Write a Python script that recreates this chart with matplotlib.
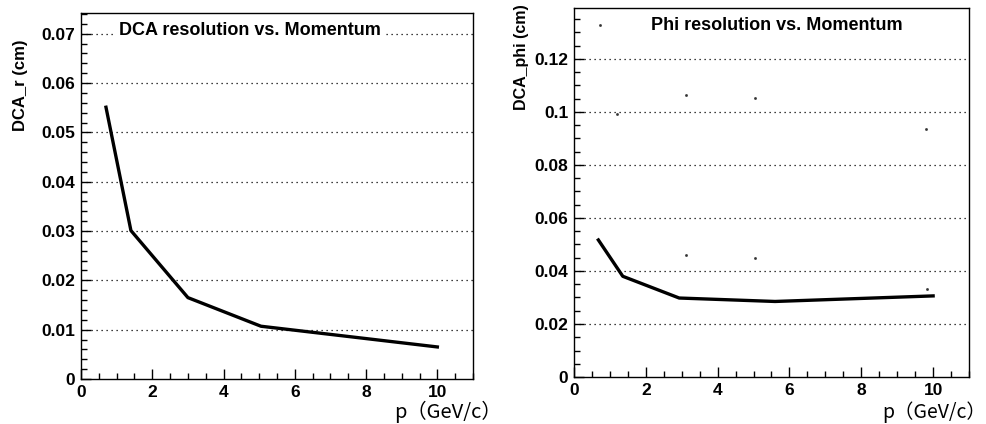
"""Recreate DCA / Phi resolution vs momentum panels."""

import matplotlib

matplotlib.use("Agg")
from matplotlib import pyplot as plt
from matplotlib.ticker import FuncFormatter, MultipleLocator

# momentum points and resolutions
p_dca = [0.7, 1.4, 3.0, 5.05, 10.0]
dca_r = [0.0551, 0.0301, 0.0165, 0.0107, 0.0065]

p_phi = [0.68, 1.36, 2.93, 5.6, 10.0]
dca_phi = [0.0517, 0.0380, 0.0298, 0.0285, 0.0306]

# stray single-pixel points in the phi panel
stray_p = [0.72, 1.21, 3.12, 5.03, 9.8, 3.13, 5.04, 9.82]
stray_v = [0.1328, 0.0991, 0.1064, 0.1054, 0.0937, 0.0459, 0.0450, 0.0333]

BOLD = "Liberation Sans"
CJK = ["Noto Sans CJK JP", "DejaVu Sans"]


def _style_axes(ax, ymax, y_major, y_minor, grid_ticks):
    ax.set_xlim(0, 11)
    ax.set_ylim(0, ymax)
    ax.xaxis.set_major_locator(MultipleLocator(2))
    ax.xaxis.set_minor_locator(MultipleLocator(0.5))
    ax.yaxis.set_major_locator(MultipleLocator(y_major))
    ax.yaxis.set_minor_locator(MultipleLocator(y_minor))
    ax.yaxis.set_major_formatter(FuncFormatter(lambda v, _: f"{v:.10g}"))
    ax.xaxis.set_major_formatter(FuncFormatter(lambda v, _: f"{v:.10g}"))
    ax.tick_params(which="both", direction="in", top=False, right=False,
                   width=1.0, color="black")
    ax.tick_params(which="major", length=7.5, pad=4)
    ax.tick_params(which="minor", length=4)
    for lab in ax.get_xticklabels() + ax.get_yticklabels():
        lab.set_fontfamily(BOLD)
        lab.set_fontweight("bold")
        lab.set_fontsize(12.5)
    for sp in ax.spines.values():
        sp.set_linewidth(1.0)
    for g in grid_ticks:
        ax.axhline(g, color="black", linestyle=(0, (1, 3)), linewidth=0.9,
                   zorder=1)


fig = plt.figure(figsize=(9.87, 4.24), dpi=100)

ax1 = fig.add_axes([0.0821, 0.1061, 0.3971, 0.8632])
_style_axes(ax1, 0.0742, 0.01, 0.002, [0.01, 0.02, 0.03, 0.04, 0.05, 0.06, 0.07])
ax1.plot(p_dca, dca_r, color="black", linewidth=2.4, zorder=3)
ax1.text(4.75, 0.0707, "DCA resolution vs. Momentum", ha="center", va="center",
         fontfamily=BOLD, fontweight="bold", fontsize=13, zorder=4,
         bbox=dict(facecolor="white", edgecolor="none", pad=3))
fig.text(0.021, 0.80, "DCA_r (cm)", rotation=90, ha="center", va="center",
         fontfamily=BOLD, fontweight="bold", fontsize=12)
fig.text(0.454, 0.028, "p（GeV/c）", ha="center", va="center",
         fontfamily=CJK, fontsize=14.5)

ax2 = fig.add_axes([0.5815, 0.1108, 0.4003, 0.8703])
_style_axes(ax2, 0.1392, 0.02, 0.005, [0.02, 0.04, 0.06, 0.08, 0.10, 0.12])
ax2.plot(p_phi, dca_phi, color="black", linewidth=2.4, zorder=3)
ax2.plot(stray_p, stray_v, linestyle="none", marker="s", markersize=0.9,
         color="#333333", zorder=3)
ax2.text(5.65, 0.1325, "Phi resolution vs. Momentum", ha="center",
         va="center", fontfamily=BOLD, fontweight="bold", fontsize=13, zorder=4)
fig.text(0.528, 0.865, "DCA_phi (cm)", rotation=90, ha="center", va="center",
         fontfamily=BOLD, fontweight="bold", fontsize=11.5)
fig.text(0.946, 0.028, "p（GeV/c）", ha="center", va="center",
         fontfamily=CJK, fontsize=14)

fig.savefig("out.png", dpi=100)
